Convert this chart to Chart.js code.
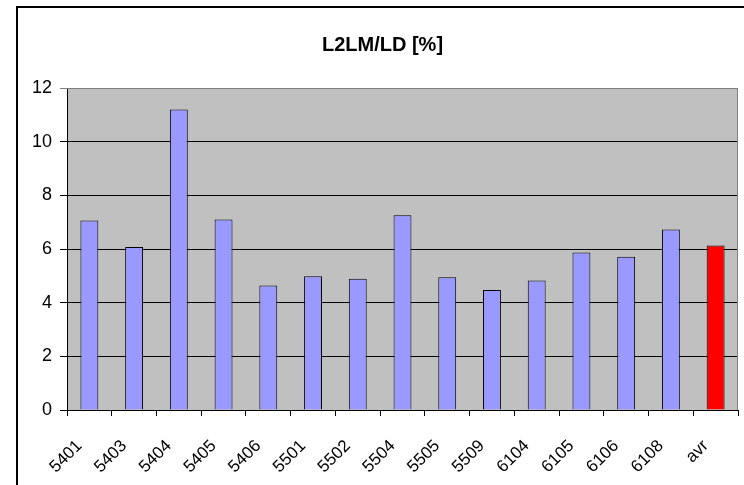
<!DOCTYPE html>
<html>
<head>
<meta charset="utf-8">
<script src="https://cdn.jsdelivr.net/npm/chart.js@4/dist/chart.umd.min.js"></script>
<style>
  html, body { margin: 0; padding: 0; background: #fff; overflow: hidden; }
  #wrap { position: relative; width: 744px; height: 485px; }
  #frame { position: absolute; left: 16px; top: 6px; width: 780px; height: 520px; border: 2px solid #000; }
  #chart { position: absolute; left: 0; top: 0; }
</style>
</head>
<body>
<div id="wrap">
  <div id="frame"></div>
  <canvas id="chart" width="744" height="485"></canvas>
</div>
<script>
const categories = ["5401", "5403", "5404", "5405", "5406", "5501", "5502", "5504", "5505", "5509", "6104", "6105", "6106", "6108", "avr"];
const values = [7.06, 6.07, 11.2, 7.1, 4.64, 4.98, 4.89, 7.26, 4.95, 4.47, 4.83, 5.87, 5.71, 6.73, 6.13];
const yTicks = [0, 2, 4, 6, 8, 10, 12];

const barColors = categories.map((c) => (c === "avr" ? "#FF0000" : "#9999FF"));
const fontFamily = "Liberation Sans, Arial, sans-serif";

// gray plot background + gray right/top border like the old Excel look
const plotArea = {
  id: "plotArea",
  beforeDraw(chart) {
    const { ctx, chartArea: a } = chart;
    ctx.save();
    ctx.fillStyle = "#C0C0C0";
    ctx.fillRect(a.left, a.top, a.right - a.left, a.bottom - a.top);
    ctx.restore();
  },
  afterDatasetsDraw(chart) {
    const { ctx, chartArea: a } = chart;
    ctx.save();
    ctx.strokeStyle = "#808080";
    ctx.lineWidth = 1;
    ctx.beginPath();
    ctx.moveTo(a.left, a.top + 0.5);
    ctx.lineTo(a.right - 0.5, a.top + 0.5);
    ctx.lineTo(a.right - 0.5, a.bottom);
    ctx.stroke();
    ctx.restore();
  }
};

new Chart(document.getElementById("chart"), {
  type: "bar",
  data: {
    labels: categories,
    datasets: [{
      label: "L2LM/LD [%]",
      data: values,
      backgroundColor: barColors,
      borderColor: "#000000",
      borderWidth: 1,
      barPercentage: 0.4,
      categoryPercentage: 1.0
    }]
  },
  options: {
    responsive: false,
    animation: false,
    layout: { padding: { left: 27, right: 6, top: 0, bottom: 0 } },
    plugins: {
      legend: { display: false },
      tooltip: { enabled: false },
      title: {
        display: true,
        text: "L2LM/LD [%]",
        color: "#000",
        font: { family: fontFamily, size: 20, weight: "bold" },
        padding: { top: 33, bottom: 31 }
      }
    },
    scales: {
      x: {
        afterFit(scale) {
          scale.height = 75;
          // keep rotated labels from squeezing the plot area
          scale.paddingLeft = 0;
          scale.paddingRight = 0;
        },
        grid: {
          offset: true,
          drawOnChartArea: false,
          drawTicks: true,
          tickLength: 6,
          color: "#000"
        },
        border: { color: "#000", width: 1 },
        ticks: {
          color: "#000",
          minRotation: 45,
          maxRotation: 45,
          autoSkip: false,
          padding: 20,
          labelOffset: -10,
          font: { family: fontFamily, size: 17 }
        }
      },
      y: {
        min: 0,
        max: 12,
        afterFit(scale) { scale.width = 40; },
        afterBuildTicks(scale) { scale.ticks = yTicks.map((v) => ({ value: v })); },
        grid: {
          color: (c) => (c.tick && c.tick.value === 12 ? "#808080" : "#000"),
          lineWidth: 1,
          tickLength: 7,
          drawTicks: true
        },
        border: { color: "#000", width: 1 },
        ticks: {
          color: "#000",
          padding: 8,
          font: { family: fontFamily, size: 18 }
        }
      }
    }
  },
  plugins: [plotArea]
});
</script>
</body>
</html>
